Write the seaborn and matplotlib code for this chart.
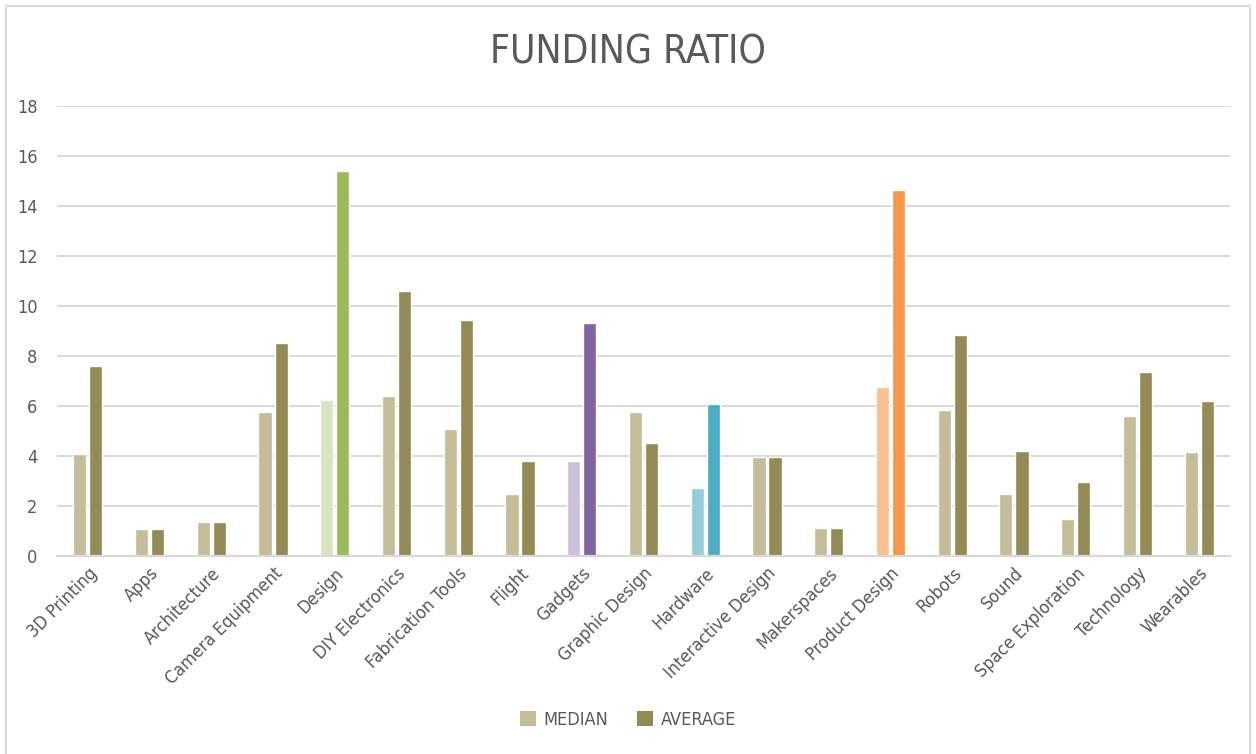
import matplotlib
matplotlib.use("Agg")
import matplotlib.pyplot as plt
from matplotlib import font_manager as fm
from matplotlib.patches import Patch
import seaborn as sns
import pandas as pd

# Funding ratio per category
categories = ["3D Printing", "Apps", "Architecture", "Camera Equipment", "Design",
              "DIY Electronics", "Fabrication Tools", "Flight", "Gadgets", "Graphic Design",
              "Hardware", "Interactive Design", "Makerspaces", "Product Design", "Robots",
              "Sound", "Space Exploration", "Technology", "Wearables"]
median_vals = [4.1, 1.1, 1.35, 5.75, 6.25, 6.42, 5.1, 2.47, 3.8, 5.77,
               2.72, 3.96, 1.12, 6.75, 5.84, 2.47, 1.47, 5.6, 4.15]
average_vals = [7.59, 1.1, 1.35, 8.52, 15.41, 10.61, 9.44, 3.8, 9.33, 4.53,
                6.09, 3.96, 1.12, 14.63, 8.83, 4.19, 2.96, 7.37, 6.2]
series = ["MEDIAN", "AVERAGE"]
y_ticks = [0, 2, 4, 6, 8, 10, 12, 14, 16, 18]

base_colors = {"MEDIAN": "#C4BD97", "AVERAGE": "#948A54"}
# categories drawn in their own accent colours (median, average)
accents = {
    "Design": ("#D7E4BD", "#9BBB59"),
    "Gadgets": ("#CCC1DA", "#8064A2"),
    "Hardware": ("#93CDDD", "#4BACC6"),
    "Product Design": ("#FAC090", "#F79646"),
}

df = pd.DataFrame({
    "category": categories * 2,
    "value": median_vals + average_vals,
    "stat": [series[0]] * len(categories) + [series[1]] * len(categories),
})

sns.set_theme(style="white")
names = {f.name for f in fm.fontManager.ttflist}
if "Liberation Sans Narrow" in names:
    family, stretch = "Liberation Sans Narrow", "normal"
else:
    family, stretch = "DejaVu Sans", "condensed"
plt.rcParams["font.family"] = [family, "DejaVu Sans"]
plt.rcParams["font.stretch"] = stretch
text_color = "#595959"

fig = plt.figure(figsize=(12.56, 7.54), dpi=100)
ax = fig.add_axes([0.0454, 0.2626, 0.9339, 0.5968])

sns.barplot(data=df, x="category", y="value", hue="stat", order=categories,
            hue_order=series, palette=base_colors, width=0.52, gap=0.18,
            saturation=1, legend=False, ax=ax)

for si, container in enumerate(ax.containers):
    for cat, bar in zip(categories, container):
        if cat in accents:
            bar.set_facecolor(accents[cat][si])

ax.set_ylim(0, 18)
ax.set_xlim(-0.5, len(categories) - 0.5)
ax.set_yticks(y_ticks)
ax.yaxis.grid(True, color="#D9D9D9", linewidth=1.4)
ax.set_axisbelow(True)
for side in ["top", "right", "left"]:
    ax.spines[side].set_visible(False)
ax.spines["bottom"].set_color("#D9D9D9")
ax.spines["bottom"].set_linewidth(1.6)
ax.tick_params(axis="both", length=0, colors=text_color)
ax.tick_params(axis="y", labelsize=13, pad=14)
ax.tick_params(axis="x", labelsize=13, pad=6)
ax.set_xlabel("")
ax.set_ylabel("")
for lbl in ax.get_xticklabels():
    lbl.set_rotation(45)
    lbl.set_ha("right")
    lbl.set_rotation_mode("anchor")

fig.text(0.5, 0.93, "FUNDING RATIO", ha="center", va="center",
         fontsize=28, color=text_color)

handles = [Patch(facecolor=base_colors[s], edgecolor="none", label=s) for s in series]
fig.legend(handles=handles, loc="center", bbox_to_anchor=(0.5, 0.045), ncol=2,
           frameon=False, fontsize=13, handlelength=0.9, handleheight=0.9,
           handletextpad=0.4, columnspacing=1.6, labelcolor=text_color)

# outer chart frame
frame = plt.Rectangle((6 / 1256, -0.01), 1244 / 1256, 1 - 6 / 754 + 0.01,
                      transform=fig.transFigure, fill=False,
                      edgecolor="#D9D9D9", linewidth=1.5)
fig.add_artist(frame)

fig.savefig("out.png", dpi=100, facecolor="white")
